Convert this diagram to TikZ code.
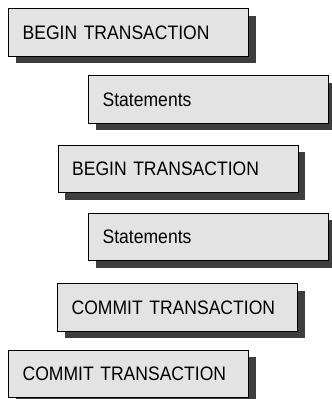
\documentclass[tikz,border=0pt]{standalone}
\usepackage{fontspec}
\setmainfont{Liberation Sans}[FakeStretch=0.9]
\usetikzlibrary{shadows}
\definecolor{boxfill}{HTML}{E3E3E3}
\definecolor{shadowgray}{HTML}{3E3E3E}
\tikzset{
  stmtbox/.style={draw=black, line width=1.3pt, fill=boxfill, anchor=north west,
    minimum width=240pt, minimum height=47.5pt, inner xsep=14pt, inner ysep=0pt,
    text width=212pt, align=left, text height=14pt, text depth=0pt,
    font=\fontsize{19.5}{22}\selectfont,
    drop shadow={shadow xshift=7pt, shadow yshift=-7pt, fill=shadowgray, opacity=1}}
}
\begin{document}
\begin{tikzpicture}[x=1pt,y=-1pt]
\useasboundingbox (0,0) rectangle (332,399);
\node[stmtbox] (b1) at (8,8) {BEGIN TRANSACTION};
\node[stmtbox] (s1) at (88,75) {Statements};
\node[stmtbox] (b2) at (57.5,144.5) {BEGIN TRANSACTION};
\node[stmtbox] (s2) at (88,212.5) {Statements};
\node[stmtbox] (c2) at (57,283) {COMMIT TRANSACTION};
\node[stmtbox] (c1) at (8,349.5) {COMMIT TRANSACTION};
\end{tikzpicture}
\end{document}
